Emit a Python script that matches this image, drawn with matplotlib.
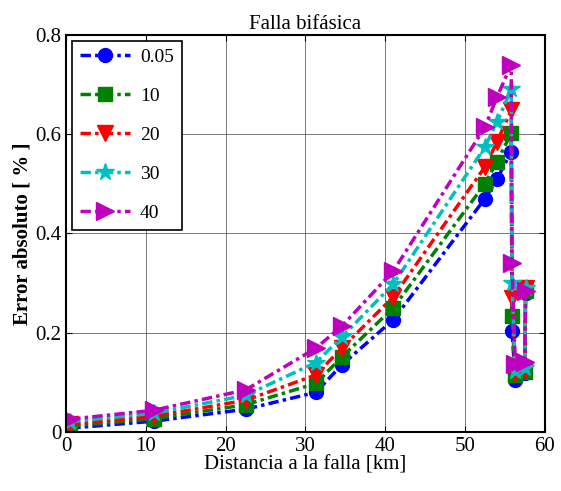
import numpy as np
import matplotlib.pyplot as plt

plt.rcParams['font.family'] = 'Liberation Serif'

# distance to fault [km]
dist = [0.5, 11, 22.5, 31.3, 34.6, 41, 52.5, 54, 55.8, 55.9, 56.3, 57.5, 57.6]

labels = ['0.05', '10', '20', '30', '40']

err_005 = [0.008, 0.022, 0.046, 0.080, 0.136, 0.226, 0.470, 0.509, 0.565, 0.204, 0.104, 0.118, 0.280]
err_10 = [0.012, 0.027, 0.055, 0.098, 0.152, 0.250, 0.500, 0.544, 0.602, 0.234, 0.114, 0.122, 0.285]
err_20 = [0.016, 0.032, 0.064, 0.115, 0.170, 0.272, 0.534, 0.584, 0.648, 0.270, 0.118, 0.126, 0.290]
err_30 = [0.021, 0.038, 0.074, 0.140, 0.192, 0.298, 0.574, 0.624, 0.690, 0.300, 0.124, 0.130, 0.290]
err_40 = [0.026, 0.044, 0.085, 0.169, 0.214, 0.324, 0.614, 0.674, 0.740, 0.340, 0.138, 0.142, 0.285]

series = [err_005, err_10, err_20, err_30, err_40]
colors = ['b', (0, 0.5, 0), 'r', 'c', 'm']
markers = ['o', 's', 'v', '*', '>']
msizes = [10, 10, 11, 13, 13]

fig = plt.figure(figsize=(5.61, 4.91), dpi=100)
ax = fig.add_axes([0.118, 0.12, 0.853, 0.809])

for y, c, m, ms, lab in zip(series, colors, markers, msizes, labels):
    ax.plot(dist, y, linestyle=(0, (3, 1.2, 1, 1.2)), color=c, lw=2.5,
            marker=m, ms=ms, label=lab)

ax.set_xlim(0, 60)
ax.set_ylim(0, 0.8)
ax.set_xticks(np.arange(0, 61, 10))
ax.set_yticks([0, 0.2, 0.4, 0.6, 0.8])
ax.set_yticklabels(['0', '0.2', '0.4', '0.6', '0.8'])
ax.grid(True, color='#444444', lw=0.5)
ax.tick_params(direction='in', top=True, right=True, labelsize=15, length=4)
for s in ax.spines.values():
    s.set_linewidth(1.5)

ax.set_title('Falla bifásica', fontsize=15, pad=4)
ax.set_xlabel('Distancia a la falla [km]', fontsize=15, labelpad=0)
ax.set_ylabel('Error absoluto [ % ]', fontsize=15, fontweight='bold', labelpad=2)

leg = ax.legend(loc='upper left', fontsize=14, fancybox=False, edgecolor='k',
                handlelength=2.6, handletextpad=0.5, labelspacing=1.1,
                borderaxespad=0.3, framealpha=1)
leg.get_frame().set_linewidth(1.2)

fig.savefig('out.png', dpi=100)
